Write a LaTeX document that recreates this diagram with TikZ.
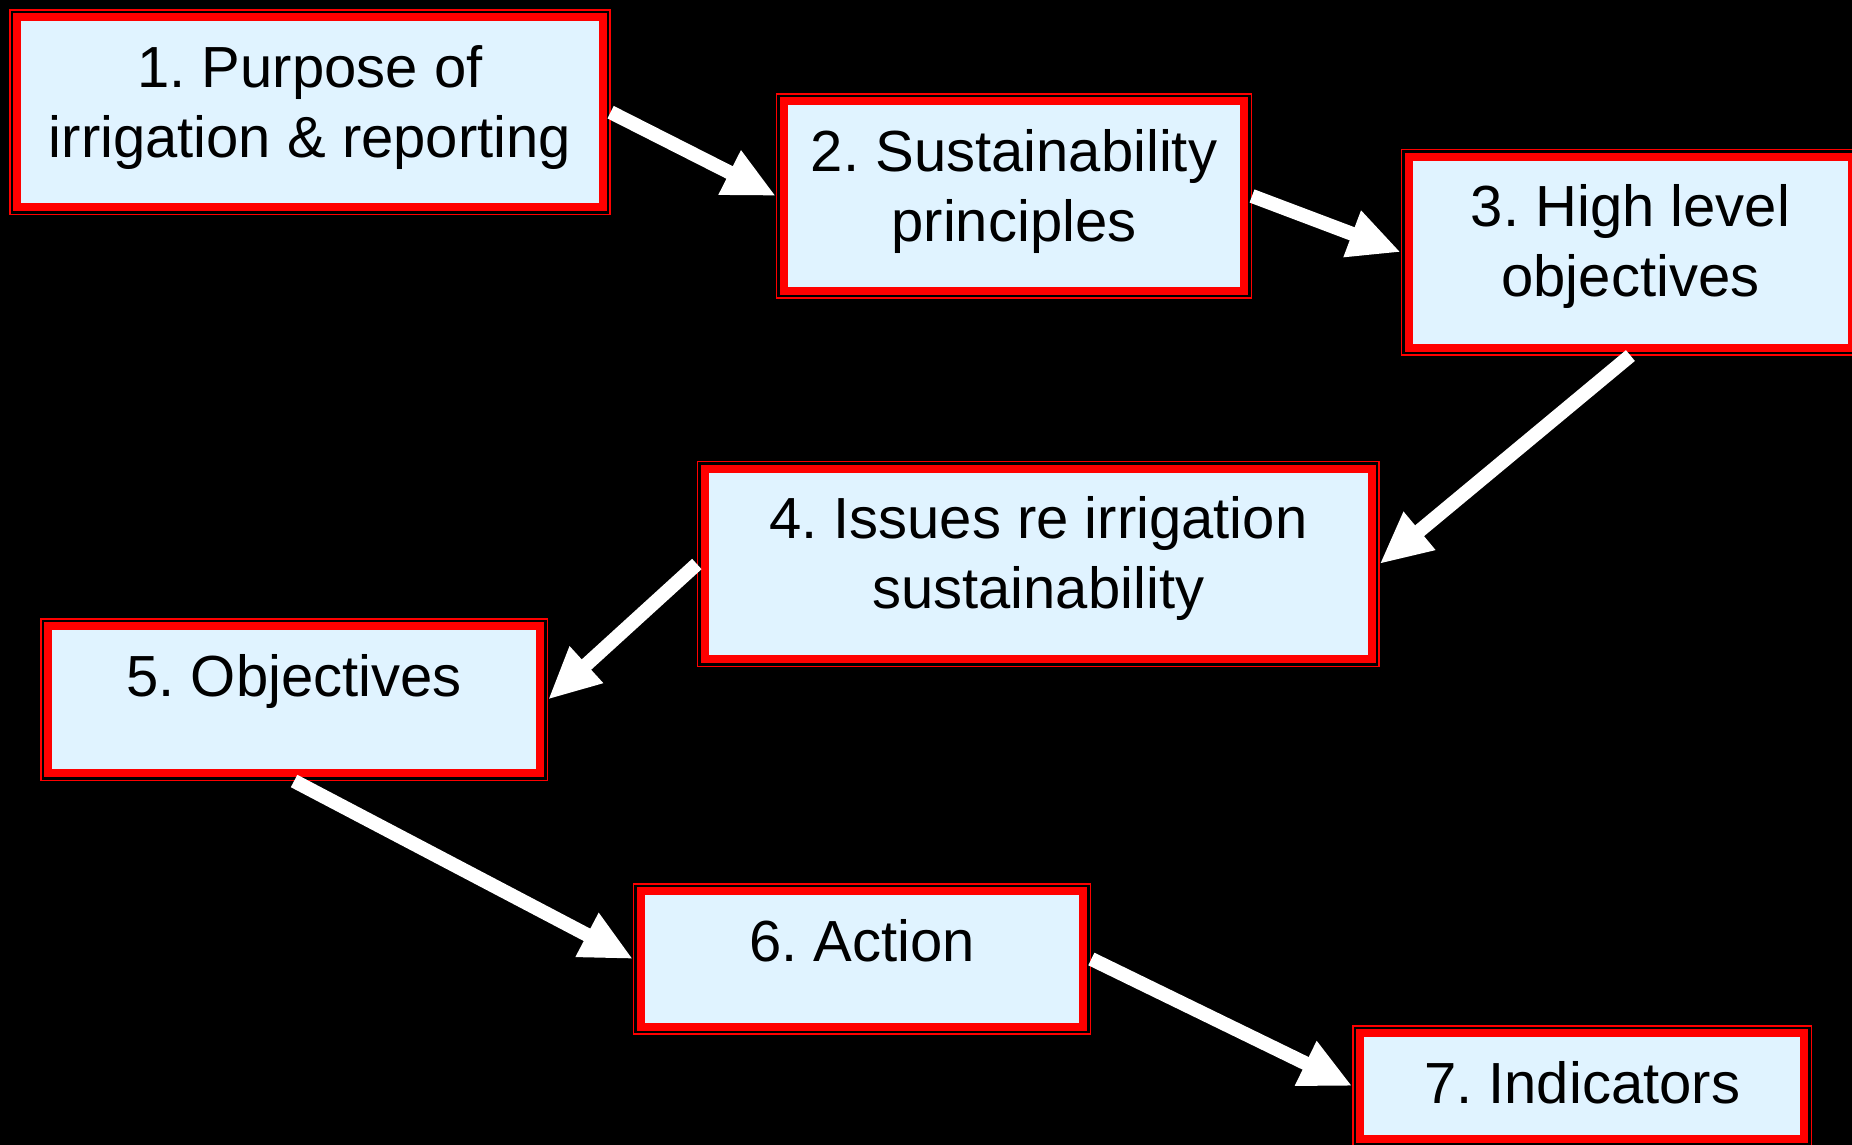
\documentclass[tikz,border=0pt]{standalone}
\usepackage{fontspec}
\setmainfont{Liberation Sans}
\usetikzlibrary{arrows.meta}
\definecolor{boxfill}{RGB}{224,243,255}
\frenchspacing
\begin{document}
\begin{tikzpicture}[x=1pt,y=-1pt,
  box/.style={rectangle, inner sep=0pt, outer sep=8pt, fill=boxfill, draw=red, line width=8pt,
    preaction={draw=red, line width=16pt},
    preaction={draw=black, line width=13.4pt}},
  lbl/.style={anchor=base, inner sep=0pt, text=black, font=\fontsize{58}{70}\selectfont},
  flow/.style={draw=white, line width=14pt, -{Triangle[length=52pt,width=46pt]}}]
\useasboundingbox (0,0) rectangle (1852,1145);
\clip (0,0) rectangle (1852,1145);
\fill[black] (0,0) rectangle (1852,1145);

\node[box, minimum width=585.2pt, minimum height=189.6pt] (b1) at (310,112.2) {};
\node[box, minimum width=460pt, minimum height=189.5pt] (b2) at (1014,196) {};
\node[box, minimum width=443.2pt, minimum height=190.7pt] (b3) at (1630.4,252.2) {};
\node[box, minimum width=666.7pt, minimum height=190.7pt] (b4) at (1038.2,564) {};
\node[box, minimum width=491.8pt, minimum height=146.8pt] (b5) at (294.1,699.6) {};
\node[box, minimum width=442.3pt, minimum height=135.1pt] (b6) at (862.2,959) {};
\node[box, minimum width=443.4pt, minimum height=105.8pt] (b7) at (1582.1,1086.1) {};

\node[lbl] (t1a) at (310,87.4) {1. Purpose of};
\node[lbl] (t1b) at (310,157.4) {irrigation \& reporting};
\node[lbl] (t2a) at (1014,171.3) {2. Sustainability};
\node[lbl] (t2b) at (1014,241.3) {principles};
\node[lbl] (t3a) at (1630.4,226.8) {3. High level};
\node[lbl] (t3b) at (1630.4,296.8) {objectives};
\node[lbl] (t4a) at (1038.2,538.6) {4. Issues re irrigation};
\node[lbl] (t4b) at (1038.2,608.6) {sustainability};
\node[lbl] (t5) at (294.1,696.7) {5. Objectives};
\node[lbl] (t6) at (862.2,961.5) {6. Action};
\node[lbl] (t7) at (1582.1,1103.2) {7. Indicators};

\draw[flow] (b1.east) -- (b2.west);
\draw[flow] (b2.east) -- (b3.west);
\draw[flow] (b3.south) -- (b4.east);
\draw[flow] (b4.west) -- (b5.east);
\draw[flow] (b5.south) -- (b6.west);
\draw[flow] (b6.east) -- (b7.west);
\end{tikzpicture}
\end{document}
